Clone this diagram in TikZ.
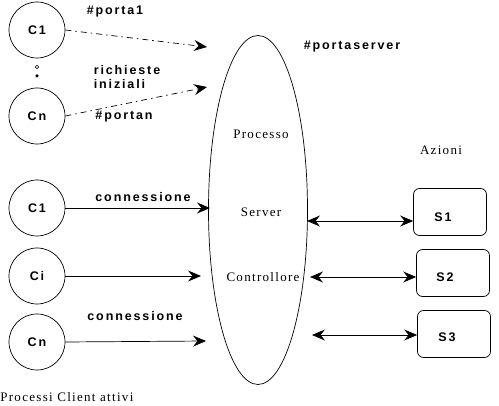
\documentclass[tikz,border=0pt]{standalone}
\usepackage{fontspec}
\setmainfont{Liberation Serif}
\newfontfamily\labfont[LetterSpace=15]{Liberation Sans}
\newfontfamily\serfont[LetterSpace=10]{Liberation Serif}
\usetikzlibrary{shapes.geometric,arrows.meta}
\tikzset{
  client/.style={draw, circle, minimum size=56pt, inner sep=0pt, font=\labfont\bfseries\fontsize{12.5}{14}\selectfont},
  lab/.style={inner sep=0pt, font=\labfont\bfseries\fontsize{12.5}{14}\selectfont},
  ser/.style={inner sep=0pt, font=\serfont\fontsize{13}{15}\selectfont},
  sbox/.style={draw, rounded corners=6pt, minimum width=73pt, minimum height=47pt, inner sep=0pt},
  tip/.style={-{Stealth[length=13pt,width=11pt,inset=4.5pt]}},
  dtip/.style={{Stealth[length=13pt,width=11pt,inset=4.5pt]}-{Stealth[length=13pt,width=11pt,inset=4.5pt]}},
  dashdot/.style={dash pattern=on 6pt off 4pt on 1.5pt off 4pt}
}
\begin{document}
\begin{tikzpicture}[x=1pt,y=-1pt,line width=0.7pt]
\useasboundingbox (0,0) rectangle (499,406);
% clients
\node[client] (c1a) at (37,30) {C1};
\node[client] (cna) at (37,116) {Cn};
\node[draw, circle, inner sep=0pt, minimum size=3.5pt] (d1) at (37,67) {};
\node[fill, circle, inner sep=0pt, minimum size=3.5pt] (d2) at (37,76) {};
\node[client] (c1) at (37,208) {C1};
\node[client] (ci) at (37,276) {Ci};
\node[client] (cn) at (37,342) {Cn};
% server
\node[draw, ellipse, minimum width=99pt, minimum height=349pt, inner sep=0pt] (srv) at (258,210) {};
\node[ser] (t1) at (261,134) {Processo};
\node[ser] (t2) at (261,212) {Server};
\node[ser] (t3) at (263,277) {Controllore};
\node[lab] (ps) at (352,47) {\#portaserver};
\node[ser] (az) at (441,150) {Azioni};
% actions
\node[sbox] (s1) at (450,212) {};
\node[sbox] (s2) at (453,273) {};
\node[sbox] (s3) at (454,334) {};
\node[lab] (s1t) at (443,217) {S1};
\node[lab] (s2t) at (445,277) {S2};
\node[lab] (s3t) at (447,337) {S3};
% labels
\node[lab] (p1) at (115,12) {\#porta1};
\node[lab, align=left] (ri) at (127,77) {richieste\\iniziali};
\node[lab] (pn) at (124,117) {\#portan};
\node[lab] (cx1) at (143,197) {connessione};
\node[lab] (cx2) at (135,316) {connessione};
\node[ser, anchor=west] (pca) at (0,397) {Processi Client attivi};
% free ends
\coordinate (e1) at (207,47);
\coordinate (e2) at (207,87);
\coordinate (e3) at (210,208);
\coordinate (e4) at (201,276);
\coordinate (e5) at (206,341);
\coordinate (b1) at (307,221);
\coordinate (b2) at (310,277);
\coordinate (b3) at (312,335);
% connectors
\draw[tip, dashdot] (c1a.east) -- (e1);
\draw[tip, dashdot] (cna.east) -- (e2);
\draw[tip] (c1.east) -- (e3);
\draw[tip] (ci.east) -- (e4);
\draw[tip] (cn.east) -- (e5);
\draw[dtip] (b1) -- (s1.west |- b1);
\draw[dtip] (b2) -- (s2.west |- b2);
\draw[dtip] (b3) -- (s3.west |- b3);
\end{tikzpicture}
\end{document}
